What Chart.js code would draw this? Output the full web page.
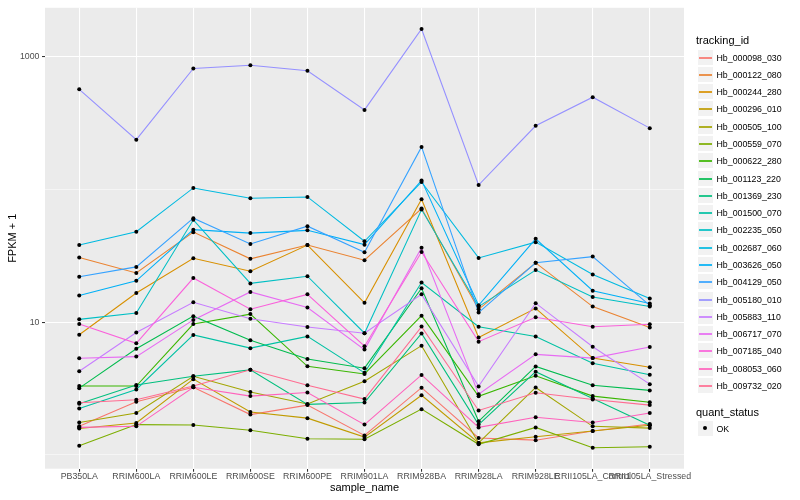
<!DOCTYPE html>
<html><head><meta charset="utf-8">
<script src="https://cdn.jsdelivr.net/npm/chart.js@4.4.1/dist/chart.umd.min.js"></script>
<style>
html,body{margin:0;padding:0;background:#fff;}
#wrap{position:relative;width:800px;height:500px;font-family:"Liberation Sans",Arial,Helvetica,sans-serif;}
#c{position:absolute;left:0;top:0;}
.ttl{position:absolute;font-size:11px;color:#000;white-space:nowrap;line-height:13px;}
.key{position:absolute;width:17px;height:17px;background:#F2F2F2;box-sizing:border-box;border:1px solid #fff;}
.key i{position:absolute;left:1px;width:13px;top:7px;height:2px;opacity:0.85;}
.key b{position:absolute;left:5px;top:5px;width:4px;height:4px;border-radius:50%;background:#000;}
.lab{position:absolute;font-size:8.8px;color:#000;white-space:nowrap;line-height:10px;}
</style></head>
<body><div id="wrap"><canvas id="c" width="800" height="500"></canvas><div id="legend"></div></div>
<script>
// ---- data ----
const samples = ['PB350LA','RRIM600LA','RRIM600LE','RRIM600SE','RRIM600PE','RRIM901LA','RRIM928BA','RRIM928LA','RRIM928LE','RRII105LA_Control','RRII105LA_Stressed'];
const trackingIds = ['Hb_000098_030','Hb_000122_080','Hb_000244_280','Hb_000296_010','Hb_000505_100','Hb_000559_070','Hb_000622_280','Hb_001123_220','Hb_001369_230','Hb_001500_070','Hb_002235_050','Hb_002687_060','Hb_003626_050','Hb_004129_050','Hb_005180_010','Hb_005883_110','Hb_006717_070','Hb_007185_040','Hb_008053_060','Hb_009732_020'];
const hb_000098_030 = [1.64, 2.51, 3.23, 2.01, 2.37, 1.40, 3.21, 1.34, 1.29, 1.51, 1.71];
const hb_000122_080 = [30.7, 23.5, 47.7, 30.0, 38.1, 29.3, 71.8, 12.5, 28.0, 13.1, 9.10];
const hb_000244_280 = [8.04, 16.6, 30.3, 24.2, 38.1, 14.0, 84.3, 7.67, 12.7, 5.36, 4.57];
const hb_000296_010 = [1.58, 1.74, 3.72, 2.10, 1.89, 1.36, 2.81, 1.23, 1.37, 1.51, 1.67];
const hb_000505_100 = [1.75, 2.07, 3.91, 2.97, 2.42, 3.59, 6.65, 1.23, 3.22, 1.64, 1.59];
const hb_000559_070 = [1.17, 1.69, 1.68, 1.53, 1.32, 1.31, 2.21, 1.20, 1.61, 1.13, 1.15];
const hb_000622_280 = [3.30, 3.30, 9.67, 11.5, 4.65, 4.07, 11.2, 2.76, 3.94, 2.77, 2.49];
const hb_001123_220 = [3.18, 6.31, 11.1, 7.29, 5.28, 4.50, 18.0, 1.79, 4.64, 3.34, 3.06];
const hb_001369_230 = [2.43, 3.36, 3.91, 4.37, 2.40, 2.48, 8.22, 1.69, 4.23, 2.66, 1.67];
const hb_001500_070 = [2.23, 3.11, 8.01, 6.37, 7.81, 4.15, 19.9, 9.23, 7.81, 4.90, 4.01];
const hb_002235_050 = [10.5, 11.7, 59.1, 19.6, 22.2, 8.25, 70.6, 13.1, 24.7, 15.5, 13.1];
const hb_002687_060 = [38.1, 48.1, 102.7, 85.8, 87.9, 40.7, 113.9, 30.5, 40.1, 22.9, 15.1];
const hb_003626_050 = [15.9, 20.5, 49.8, 46.9, 49.2, 38.4, 117.1, 13.4, 42.5, 17.25, 13.8];
const hb_004129_050 = [22.0, 26.1, 60.8, 38.8, 52.9, 33.6, 209.3, 11.8, 28.0, 31.2, 13.4];
const hb_005180_010 = [569, 237.5, 817, 865, 786, 398, 1622, 108.1, 302, 496, 290];
const hb_005883_110 = [4.27, 8.36, 14.1, 10.6, 9.18, 8.25, 16.2, 3.28, 13.9, 6.53, 3.41];
const hb_006717_070 = [5.34, 5.50, 10.4, 16.9, 12.9, 6.21, 36.4, 2.86, 5.72, 5.36, 6.50];
const hb_007185_040 = [9.67, 6.92, 21.5, 12.5, 16.2, 6.59, 33.8, 7.13, 10.9, 9.23, 9.63];
const hb_008053_060 = [1.61, 1.64, 3.23, 2.77, 2.95, 1.69, 4.00, 1.61, 1.92, 1.75, 2.07];
const hb_009732_020 = [2.47, 2.60, 3.30, 4.37, 3.34, 2.63, 9.26, 2.16, 2.94, 2.61, 2.37];
const seriesValues = [hb_000098_030, hb_000122_080, hb_000244_280, hb_000296_010, hb_000505_100, hb_000559_070, hb_000622_280, hb_001123_220, hb_001369_230, hb_001500_070, hb_002235_050, hb_002687_060, hb_003626_050, hb_004129_050, hb_005180_010, hb_005883_110, hb_006717_070, hb_007185_040, hb_008053_060, hb_009732_020];
const yBreaks = [1, 10, 100, 1000];
const yLabels = ['', '10', '', '1000'];
const quantStatus = ['OK'];

// ---- styles ----
const palette = ['#F8766D','#EA8331','#D89000','#C09B00','#A3A500','#7CAE00','#39B600','#00BB4E','#00BF7D','#00C1A3','#00BFC4','#00BAE0','#00B0F6','#35A2FF','#9590FF','#C77CFF','#E76BF3','#FA62DB','#FF62BC','#FF6C91'];
const FONT = '"Liberation Sans", Arial, Helvetica, sans-serif';

const panelBg = {
  id: 'panelBg',
  beforeDraw(chart) {
    const {ctx, chartArea: a} = chart;
    ctx.save();
    ctx.fillStyle = '#EBEBEB';
    ctx.fillRect(a.left, a.top, a.right - a.left, a.bottom - a.top);
    ctx.restore();
  }
};

const datasets = trackingIds.map((id, i) => ({
  label: id,
  data: seriesValues[i].map((v, j) => ({x: j, y: v})),
  borderColor: palette[i],
  backgroundColor: palette[i],
  borderWidth: 1.07,
  pointRadius: 0,
  fill: false,
  tension: 0,
  order: -i
}));
datasets.push({
  label: quantStatus[0],
  data: seriesValues.flatMap(vals => vals.map((v, j) => ({x: j, y: v}))),
  showLine: false,
  pointRadius: 2,
  pointBackgroundColor: '#000',
  pointBorderColor: '#000',
  pointBorderWidth: 0,
  order: -100
});

const isMajor = v => { const k = yBreaks.indexOf(v); return k >= 0 && yLabels[k] !== ''; };

new Chart(document.getElementById('c'), {
  type: 'line',
  data: {datasets},
  plugins: [panelBg],
  options: {
    responsive: false,
    animation: false,
    devicePixelRatio: 1,
    layout: {padding: {left: 0, right: 116, top: 5, bottom: 0}},
    plugins: {legend: {display: false}, tooltip: {enabled: false}},
    scales: {
      x: {
        type: 'linear', min: -0.6, max: 10.6,
        afterBuildTicks: s => { s.ticks = samples.map((_, i) => ({value: i})); },
        afterFit: s => { s.height = 31.3; },
        ticks: {autoSkip: false, maxRotation: 0, minRotation: 0, padding: 0, color: '#4D4D4D',
                font: {family: FONT, size: 8.8}, callback: v => samples[v]},
        grid: {color: '#FFFFFF', lineWidth: 1.07, drawTicks: true, tickLength: 3, tickColor: '#333333', tickWidth: 1.07},
        border: {display: false},
        title: {display: true, text: 'sample_name', color: '#000', font: {family: FONT, size: 11}, padding: {top: 0, bottom: 5}}
      },
      y: {
        type: 'logarithmic', min: 0.786, max: 2342,
        afterBuildTicks: s => { s.ticks = yBreaks.map(v => ({value: v})); },
        afterFit: s => { s.width = 45; },
        ticks: {autoSkip: false, padding: 2.5, color: '#4D4D4D', font: {family: FONT, size: 8.8},
                callback: v => { const k = yBreaks.indexOf(v); return k >= 0 ? yLabels[k] : ''; }},
        grid: {color: '#FFFFFF',
               lineWidth: c => (c.tick && isMajor(c.tick.value)) ? 1.07 : 0.53,
               drawTicks: true, tickLength: 3,
               tickColor: c => (c.tick && isMajor(c.tick.value)) ? '#333333' : 'rgba(0,0,0,0)',
               tickWidth: 1.07},
        border: {display: false},
        title: {display: true, text: 'FPKM + 1', color: '#000', font: {family: FONT, size: 11}, padding: {top: 6.7, bottom: 0}}
      }
    }
  }
});

// ---- legend (HTML text) ----
const lg = document.getElementById('legend');
function el(cls, left, top, text) {
  const d = document.createElement('div');
  d.className = cls; d.style.left = left + 'px'; d.style.top = top + 'px';
  if (text !== undefined) d.textContent = text;
  lg.appendChild(d); return d;
}
el('ttl', 696, 34.2, 'tracking_id');
trackingIds.forEach((id, i) => {
  const top = Math.round(48.6 + i * 17.28);
  const k = el('key', 697, top);
  const line = document.createElement('i'); line.style.background = palette[i]; k.appendChild(line);
  el('lab', 716.5, top + 8.5 - 5, id);
});
el('ttl', 696, 405.8, 'quant_status');
quantStatus.forEach((q, i) => {
  const top = Math.round(420.4 + i * 17.28);
  const k = el('key', 697, top);
  k.appendChild(document.createElement('b'));
  el('lab', 716.5, top + 8.5 - 5, q);
});
</script></body></html>
